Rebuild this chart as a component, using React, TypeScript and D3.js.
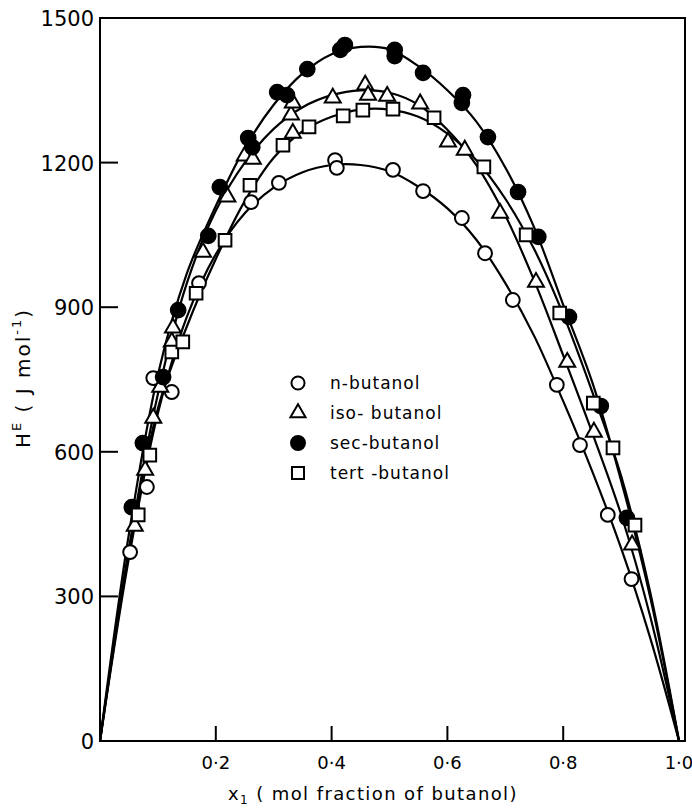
import * as d3 from 'd3'
import { useEffect, useRef } from 'react'

// measured points [x1, HE]
const nButanol = [
	[0.052, 392], [0.081, 527], [0.092, 753], [0.124, 724], [0.171, 950], [0.261, 1118],
	[0.309, 1158], [0.406, 1205], [0.409, 1189], [0.506, 1185], [0.558, 1141], [0.625, 1085],
	[0.665, 1012], [0.713, 915], [0.789, 739], [0.829, 614], [0.877, 469], [0.918, 336],
]
const isoButanol = [
	[0.06, 446], [0.078, 562], [0.092, 670], [0.104, 734], [0.124, 828], [0.126, 857],
	[0.178, 1014], [0.22, 1129], [0.25, 1214], [0.264, 1207], [0.33, 1299], [0.333, 1324],
	[0.333, 1261], [0.402, 1334], [0.458, 1361], [0.463, 1340], [0.496, 1338], [0.553, 1322],
	[0.601, 1243], [0.63, 1226], [0.691, 1095], [0.753, 952], [0.807, 786], [0.853, 641],
	[0.919, 407],
]
const secButanol = [
	[0.055, 485], [0.074, 618], [0.109, 755], [0.135, 894], [0.187, 1048], [0.207, 1149],
	[0.256, 1251], [0.263, 1232], [0.306, 1346], [0.323, 1340], [0.358, 1394], [0.415, 1434],
	[0.423, 1444], [0.509, 1434], [0.509, 1421], [0.558, 1386], [0.627, 1340], [0.625, 1324],
	[0.67, 1253], [0.722, 1139], [0.757, 1046], [0.81, 880], [0.865, 695], [0.91, 463],
]
const tertButanol = [
	[0.066, 469], [0.086, 593], [0.124, 807], [0.143, 828], [0.166, 929], [0.216, 1039],
	[0.259, 1153], [0.316, 1236], [0.361, 1274], [0.42, 1297], [0.454, 1309], [0.506, 1311],
	[0.577, 1293], [0.663, 1191], [0.736, 1050], [0.794, 888], [0.852, 701], [0.886, 608],
	[0.924, 448],
]

// fitted curves, read at these x1 values
const curveX = [0, 0.05, 0.1, 0.15, 0.2, 0.25, 0.3, 0.35, 0.4, 0.45, 0.5, 0.55, 0.6, 0.65, 0.7, 0.75, 0.8, 0.85, 0.9, 0.95, 1]
const nCurve = [0, 380, 680, 880, 1010, 1095, 1148, 1180, 1195, 1195, 1182, 1150, 1105, 1040, 950, 840, 705, 560, 400, 215, 0]
const isoCurve = [0, 400, 720, 950, 1100, 1200, 1270, 1315, 1340, 1350, 1345, 1320, 1268, 1195, 1090, 955, 800, 640, 470, 260, 0]
const secCurve = [0, 430, 760, 970, 1110, 1230, 1320, 1385, 1425, 1440, 1435, 1400, 1350, 1285, 1190, 1065, 905, 745, 540, 300, 0]
const tertCurve = [0, 390, 690, 860, 1000, 1120, 1210, 1265, 1295, 1310, 1310, 1295, 1260, 1205, 1125, 1020, 885, 725, 550, 310, 0]

const yTicks = [0, 300, 600, 900, 1200, 1500]
const xTicks = [0.2, 0.4, 0.6, 0.8, 1.0]
const xTickLabels = ['0·2', '0·4', '0·6', '0·8', '1·0']
const legendLabels = ['n-butanol', 'iso- butanol', 'sec-butanol', 'tert -butanol']

const App = () => {
	const svgRef = useRef<SVGSVGElement>(null)

	const width = 692
	const height = 808
	const font = 'DejaVu Sans, sans-serif'

	useEffect(() => {
		d3.select(svgRef.current).selectAll('*').remove()
		const svg = d3.select(svgRef.current).attr('width', width).attr('height', height)

		const x = d3.scaleLinear().domain([0, 1]).range([100, 679])
		const y = d3.scaleLinear().domain([0, 1500]).range([741, 18])

		// frame
		const left = x(0)
		const right = x(1) + 6
		svg.append('rect')
			.attr('x', left)
			.attr('y', y(1500))
			.attr('width', right - left)
			.attr('height', y(0) - y(1500))
			.attr('fill', 'none')
			.attr('stroke', '#000')
			.attr('stroke-width', 2)

		// y ticks
		svg.selectAll('.yt')
			.data(yTicks.filter((d) => d > 0 && d < 1500))
			.join('line')
			.attr('x1', left)
			.attr('x2', left + 18)
			.attr('y1', (d) => y(d))
			.attr('y2', (d) => y(d))
			.attr('stroke', '#000')
			.attr('stroke-width', 2)

		svg.selectAll('.yl')
			.data(yTicks)
			.join('text')
			.attr('x', left - 6)
			.attr('y', (d) => y(d) + 8)
			.attr('text-anchor', 'end')
			.attr('font-family', font)
			.attr('font-size', 21)
			.text((d) => d)

		// x ticks
		svg.selectAll('.xt')
			.data(xTicks.filter((d) => d < 1))
			.join('line')
			.attr('x1', (d) => x(d))
			.attr('x2', (d) => x(d))
			.attr('y1', y(0))
			.attr('y2', y(0) - 15)
			.attr('stroke', '#000')
			.attr('stroke-width', 2)

		svg.selectAll('.xl')
			.data(xTicks)
			.join('text')
			.attr('x', (d) => x(d))
			.attr('y', 769)
			.attr('text-anchor', 'middle')
			.attr('font-family', font)
			.attr('font-size', 18)
			.text((d, i) => xTickLabels[i])

		// axis titles
		const xt = svg.append('text')
			.attr('x', 228)
			.attr('y', 800)
			.attr('font-family', font)
			.attr('font-size', 18)
			.attr('letter-spacing', 1.4)
		xt.append('tspan').text('x')
		xt.append('tspan').attr('font-size', 12).attr('dy', 4).text('1')
		xt.append('tspan').attr('dy', -4).text('  ( mol fraction of butanol)')

		const yt = svg.append('text')
			.attr('transform', 'translate(30,378) rotate(-90)')
			.attr('text-anchor', 'middle')
			.attr('font-family', font)
			.attr('font-size', 20)
			.attr('letter-spacing', 2)
		yt.append('tspan').text('H')
		yt.append('tspan').attr('font-size', 13).attr('dy', -9).text('E')
		yt.append('tspan').attr('dy', 9).text(' ( J mol')
		yt.append('tspan').attr('font-size', 13).attr('dy', -9).text('-1')
		yt.append('tspan').attr('dy', 9).text(')')

		// curves
		const line = d3.line<number>()
			.curve(d3.curveCatmullRom.alpha(0.5))
			.x((d, i) => x(curveX[i]))
			.y((d) => y(d))

		;[nCurve, isoCurve, secCurve, tertCurve].forEach((c) => {
			svg.append('path')
				.attr('d', line(c))
				.attr('fill', 'none')
				.attr('stroke', '#000')
				.attr('stroke-width', 2.2)
		})

		// markers
		const series = [
			{ data: nButanol, type: d3.symbolCircle, size: 150, fill: '#fff' },
			{ data: isoButanol, type: d3.symbolTriangle, size: 110, fill: '#fff' },
			{ data: secButanol, type: d3.symbolCircle, size: 170, fill: '#000' },
			{ data: tertButanol, type: d3.symbolSquare, size: 160, fill: '#fff' },
		]

		series.forEach((s) => {
			svg.append('g')
				.selectAll('path')
				.data(s.data)
				.join('path')
				.attr('transform', (d) => `translate(${x(d[0])},${y(d[1])})`)
				.attr('d', d3.symbol().type(s.type).size(s.size)())
				.attr('fill', s.fill)
				.attr('stroke', '#000')
				.attr('stroke-width', 2)
		})

		// legend
		const lg = svg.append('g').attr('transform', 'translate(298,383)')
		series.forEach((s, i) => {
			lg.append('path')
				.attr('transform', `translate(0,${i * 30})`)
				.attr('d', d3.symbol().type(s.type).size(s.size * 0.9)())
				.attr('fill', s.fill)
				.attr('stroke', '#000')
				.attr('stroke-width', 2)
			lg.append('text')
				.attr('x', 32)
				.attr('y', i * 30 + 6)
				.attr('font-family', font)
				.attr('font-size', 17)
				.attr('letter-spacing', 1)
				.text(legendLabels[i])
		})
	}, [])

	return (
		<>
			<svg ref={svgRef} style={{ position: 'absolute', left: 0, top: 0 }}></svg>
		</>
	)
}

export default App
